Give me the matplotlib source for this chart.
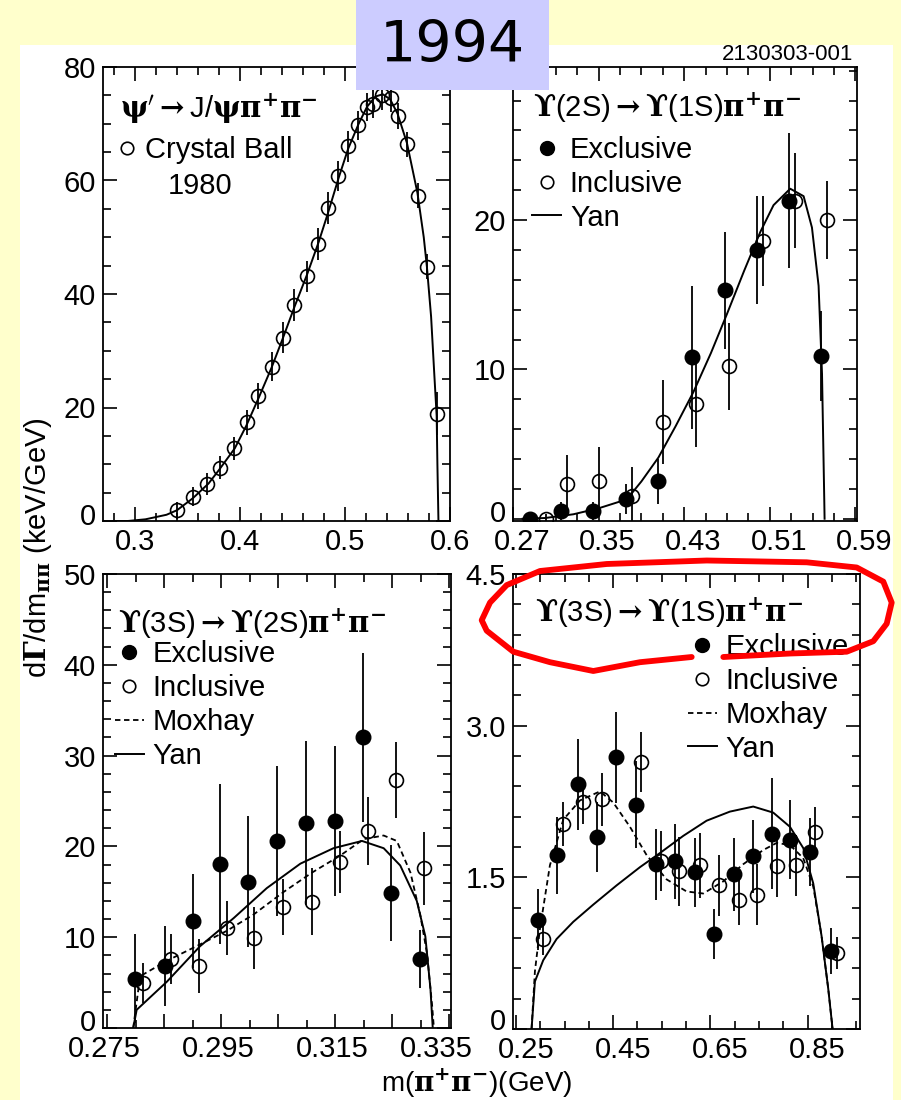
import matplotlib.pyplot as plt
from matplotlib.lines import Line2D
from matplotlib.patches import Rectangle
from matplotlib.ticker import MultipleLocator
from matplotlib.transforms import ScaledTranslation

plt.rcParams['font.family'] = ['Liberation Sans', 'DejaVu Sans']
plt.rcParams['mathtext.fontset'] = 'dejavuserif'

W, H = 901, 1100

# psi' -> J/psi pi+ pi-  (Crystal Ball 1980)
cb_m = [0.3397, 0.3549, 0.3688, 0.3809, 0.3945, 0.4064, 0.4174, 0.4302, 0.4412,
        0.4514, 0.4635, 0.4745, 0.4841, 0.4936, 0.5031, 0.5126, 0.5206, 0.5269,
        0.5349, 0.5435, 0.5502, 0.5593, 0.5692, 0.5778, 0.5873]
cb_rate = [1.9, 4.3, 6.5, 9.4, 12.8, 17.4, 22.1, 27.2, 32.3, 38.0, 43.1, 48.8, 55.1,
           60.8, 66.0, 69.7, 73.0, 73.5, 75.0, 74.6, 71.4, 66.4, 57.3, 44.8, 18.9]
cb_err = [1.5, 1.7, 2.0, 2.0, 2.0, 2.2, 2.3, 2.5, 2.7, 2.8, 2.8, 2.8, 2.8, 2.7, 2.7,
          2.6, 2.5, 2.5, 2.5, 2.5, 2.3, 2.2, 2.2, 2.2, 3.8]
cb_fit_m = [0.279, 0.293, 0.31, 0.33, 0.34, 0.355, 0.37, 0.38, 0.395, 0.406, 0.418,
            0.43, 0.441, 0.452, 0.464, 0.475, 0.484, 0.494, 0.503, 0.513, 0.521,
            0.529, 0.536, 0.543, 0.55, 0.559, 0.569, 0.575, 0.578, 0.582, 0.585,
            0.5873, 0.588, 0.589]
cb_fit_rate = [0, 0, 0.3, 1.1, 1.9, 4.0, 6.6, 9.0, 12.8, 16.8, 21.8, 27.0, 32.3, 37.8,
               43.5, 49.2, 54.4, 60.5, 65.6, 70.0, 73.0, 74.8, 75.2, 74.3, 71.8, 66.6,
               57.8, 50.0, 44.8, 36.0, 26.0, 18.5, 10.0, 0]

# Upsilon(2S) -> Upsilon(1S) pi+ pi-
u21_ex_m = [0.2859, 0.3146, 0.3451, 0.3754, 0.4059, 0.4377, 0.4683, 0.4980, 0.5282, 0.5578]
u21_ex = [0.0, 0.55, 0.55, 1.3, 2.5, 10.8, 15.3, 18.0, 21.3, 10.9]
u21_ex_err = [0.3, 0.6, 0.6, 1.0, 1.5, 4.8, 3.9, 3.6, 4.5, 3.0]
u21_in_m = [0.3009, 0.3202, 0.3507, 0.3810, 0.4106, 0.4412, 0.4723, 0.5036, 0.5331, 0.5635]
u21_in = [0.0, 2.3, 2.5, 1.55, 6.5, 7.7, 10.2, 18.6, 21.3, 20.0]
u21_in_err = [0.3, 2.0, 2.3, 1.9, 2.8, 2.9, 2.9, 3.0, 3.2, 2.6]
u21_yan_m = [0.279, 0.30, 0.3264, 0.35, 0.3764, 0.39, 0.4059, 0.422, 0.4387, 0.455,
             0.4699, 0.486, 0.5011, 0.5135, 0.5291, 0.5416, 0.5494, 0.5556, 0.5588,
             0.5609, 0.5612]
u21_yan = [0, 0.05, 0.3, 0.7, 1.3, 2.5, 4.1, 6.2, 8.5, 11.1, 13.7, 16.6, 19.2, 21.0,
           22.1, 21.6, 19.5, 15.6, 9.7, 1.3, 0]

# Upsilon(3S) -> Upsilon(2S) pi+ pi-
u32_ex_m = [0.2799, 0.2851, 0.2900, 0.2948, 0.2998, 0.3048, 0.3099, 0.3149, 0.3199, 0.3248, 0.3299]
u32_ex = [5.4, 6.8, 11.8, 18.1, 16.1, 20.6, 22.6, 22.8, 32.0, 14.9, 7.6]
u32_ex_err = [4.9, 4.4, 5.2, 8.8, 7.2, 8.3, 9.0, 8.3, 9.3, 5.3, 3.2]
u32_in_m = [0.2813, 0.2862, 0.2912, 0.2960, 0.3008, 0.3058, 0.3109, 0.3158, 0.3207, 0.3257, 0.3306]
u32_in = [5.0, 7.6, 6.8, 11.0, 9.9, 13.3, 13.9, 18.3, 21.7, 27.3, 17.6]
u32_in_err = [2.2, 2.7, 3.0, 3.0, 3.4, 3.1, 3.7, 3.4, 3.7, 4.2, 4.0]
u32_yan_m = [0.2796, 0.2802, 0.2855, 0.2913, 0.2972, 0.3030, 0.3089, 0.3147, 0.3197,
             0.3235, 0.3264, 0.3293, 0.3308, 0.3317, 0.3321]
u32_yan = [0, 2.0, 5.1, 9.0, 12.1, 15.4, 18.1, 19.8, 20.6, 19.8, 17.9, 14.0, 10.1, 4.3, 0]
u32_mox_m = [0.2796, 0.2808, 0.2855, 0.2913, 0.2960, 0.3007, 0.3060, 0.3109, 0.3159,
             0.3200, 0.3235, 0.3258, 0.3282, 0.3299, 0.3311, 0.3320, 0.3323]
u32_mox = [0, 5.7, 7.4, 9.2, 10.7, 12.5, 15.0, 17.1, 19.0, 20.8, 21.2, 20.6, 17.1,
           12.5, 8.2, 2.4, 0]

# Upsilon(3S) -> Upsilon(1S) pi+ pi-
u31_ex_m = [0.2959, 0.335, 0.3769, 0.4173, 0.4558, 0.4969, 0.5381, 0.5772, 0.6183,
            0.658, 0.6986, 0.7383, 0.7761, 0.8138, 0.855, 0.8975]
u31_ex = [1.08, 1.72, 2.42, 1.90, 2.69, 2.22, 1.63, 1.66, 1.55, 0.94, 1.53, 1.71,
          1.93, 1.87, 1.75, 0.77]
u31_ex_err = [0.3, 0.38, 0.45, 0.35, 0.45, 0.43, 0.35, 0.37, 0.34, 0.25, 0.36, 0.36,
              0.55, 0.39, 0.34, 0.23]
u31_in_m = [0.3062, 0.3473, 0.3885, 0.4263, 0.5065, 0.548, 0.586, 0.6286, 0.6683,
            0.7095, 0.7465, 0.7877, 0.8261, 0.8652, 0.9099]
u31_in = [0.89, 2.03, 2.25, 2.27, 2.64, 1.66, 1.56, 1.62, 1.42, 1.28, 1.33, 1.61,
          1.62, 1.95, 0.75]
u31_in_err = [0.16, 0.22, 0.22, 0.26, 0.30, 0.3, 0.34, 0.32, 0.3, 0.25, 0.3, 0.3,
              0.3, 0.25, 0.16]
u31_mox_m = [0.2822, 0.2891, 0.2994, 0.32, 0.3474, 0.3817, 0.4228, 0.4503, 0.4846,
             0.5189, 0.56, 0.6012, 0.6355, 0.6766, 0.7178, 0.7589, 0.7864, 0.8138,
             0.8412, 0.8618, 0.8789, 0.8926, 0.9016]
u31_mox = [0, 0.57, 0.99, 1.62, 2.07, 2.26, 2.35, 2.24, 2.0, 1.72, 1.48, 1.36, 1.34,
           1.46, 1.63, 1.77, 1.84, 1.82, 1.69, 1.41, 0.92, 0.4, 0]
u31_yan_m = [0.2822, 0.2891, 0.3062, 0.3337, 0.368, 0.4091, 0.4571, 0.5051, 0.5463,
             0.5943, 0.6423, 0.6903, 0.7383, 0.7795, 0.8138, 0.8412, 0.8618, 0.8789,
             0.8926, 0.9016]
u31_yan = [0, 0.47, 0.68, 0.89, 1.06, 1.23, 1.42, 1.60, 1.74, 1.91, 2.06, 2.15, 2.20,
           2.14, 2.0, 1.79, 1.44, 0.92, 0.4, 0]

# tick labels
tl_xticks = [0.3, 0.4, 0.5, 0.6]
tl_yticks = [0, 20, 40, 60, 80]
tr_xticks = [0.27, 0.35, 0.43, 0.51, 0.59]
tr_yticks = [0, 10, 20]
bl_xticks = [0.275, 0.285, 0.295, 0.305, 0.315, 0.325, 0.335]
bl_xticklabels = ['0.275', '', '0.295', '', '0.315', '', '0.335']
bl_yticks = [0, 10, 20, 30, 40, 50]
br_xticks = [0.25, 0.45, 0.65, 0.85]
br_yticks = [0, 1.5, 3.0, 4.5]
br_yticklabels = ['0', '1.5', '3.0', '4.5']

U = r'$\mathbf{ϒ}$'
ARROW = r'$\mathbf{\rightarrow}$'
PIPI = r'$\mathbf{\pi^{+}\pi^{-}}$'

# red hand-drawn loop (figure pixels)
loop_x = [691.7, 640, 593.3, 550, 513.3, 486.7, 481.7, 490, 506.7, 540, 606.7, 706.7,
          806.7, 856.7, 883.3, 891.7, 886.7, 873.3, 846.7, 790, 723.3]
loop_y = [657, 662.2, 671, 662.2, 651.7, 630.7, 620.2, 602.6, 585.1, 571, 564, 560.5,
          562.3, 567.5, 581.6, 602.6, 623.7, 641.2, 651.7, 653.5, 657]


def rect(l, r, t, b):
    return [l / W, 1 - b / H, (r - l) / W, (b - t) / H]


def style(ax, xlim, ylim, xminor, yminor, xoff=0.0):
    ax.set_xlim(xlim)
    ax.set_ylim(ylim)
    ax.xaxis.set_minor_locator(MultipleLocator(xminor, offset=xoff))
    ax.yaxis.set_minor_locator(MultipleLocator(yminor))
    ax.tick_params(which='both', direction='in', top=True, right=True,
                   labelsize=21, width=1.2, pad=5, colors='black')
    ax.tick_params(which='major', length=10)
    ax.tick_params(which='minor', length=5.5)
    for s in ax.spines.values():
        s.set_linewidth(1.3)


def nudge(labels, dx, dy=0):
    # shift tick labels by pixels, as in the scanned original
    for lab in labels:
        lab.set_transform(lab.get_transform() + ScaledTranslation(dx / 100, -dy / 100, fig.dpi_scale_trans))


def legend(ax, handles, labels, anchor, hl=1.0):
    ax.legend(handles, labels, loc='upper left', bbox_to_anchor=anchor,
              frameon=False, fontsize=21, handlelength=hl, handletextpad=0.3,
              labelspacing=0.2, borderpad=0, borderaxespad=0)


ekw = dict(ls='none', ecolor='black', elinewidth=1.3, capsize=0)
fill = dict(fmt='o', ms=10.5, color='black', **ekw)
hollow = dict(fmt='o', ms=10, mfc='none', mec='black', mew=1.2, **ekw)
yan_kw = dict(color='black', lw=1.4)
mox_kw = dict(color='black', lw=1.3, ls=(0, (3, 2)))

h_ex = Line2D([], [], marker='o', ls='none', color='black', ms=10)
h_in = Line2D([], [], marker='o', ls='none', mfc='none', mec='black', mew=1.2, ms=9)
h_mox = Line2D([], [], **mox_kw)
h_yan = Line2D([], [], **yan_kw)

fig = plt.figure(figsize=(W / 100, H / 100), dpi=100, facecolor='#ffffcc')
fig.add_artist(Rectangle((20 / W, 0), 873 / W, 1 - 45 / H, transform=fig.transFigure,
                         facecolor='white', edgecolor='none', zorder=-5))

# top left
ax = fig.add_axes(rect(103, 450, 67, 521))
ax.plot(cb_fit_m, cb_fit_rate, **yan_kw)
ax.errorbar(cb_m, cb_rate, yerr=cb_err, **hollow)
ax.set_xticks(tl_xticks, [str(t) for t in tl_xticks])
ax.set_yticks(tl_yticks, [str(t) for t in tl_yticks])
style(ax, (0.2695, 0.6), (0, 80), 0.02, 5)
nudge(ax.get_yticklabels()[:1], 0, -7)
ax.text(0.049, 0.9075, r"$\mathbf{\psi}'$" + ARROW + r"J/$\mathbf{\psi\pi^{+}\pi^{-}}$",
        transform=ax.transAxes, fontsize=21, va='center')
legend(ax, [h_in], ['Crystal Ball'], (0.045, 0.848), hl=0.6)
ax.text(0.187, 0.738, '1980', transform=ax.transAxes, fontsize=21, va='center')

# top right
ax = fig.add_axes(rect(513, 857, 67, 521))
ax.plot(u21_yan_m, u21_yan, **yan_kw)
ax.errorbar(u21_in_m, u21_in, yerr=u21_in_err, **hollow)
ax.errorbar(u21_ex_m, u21_ex, yerr=u21_ex_err, **fill)
ax.set_xticks(tr_xticks, [str(t) for t in tr_xticks])
ax.set_yticks(tr_yticks, [str(t) for t in tr_yticks])
style(ax, (0.27, 0.5915), (-0.15, 30.25), 0.02, 2, xoff=0.01)
nudge(ax.get_xticklabels(), 9)
nudge(ax.get_yticklabels()[:1], 0, -8)
ax.text(0.058, 0.91, U + '(2S)' + ARROW + U + '(1S)' + PIPI, transform=ax.transAxes,
        fontsize=21, va='center')
legend(ax, [h_ex, h_in, h_yan], ['Exclusive', 'Inclusive', 'Yan'], (0.055, 0.848))

# bottom left
ax = fig.add_axes(rect(103, 451, 574, 1028))
ax.plot(u32_mox_m, u32_mox, **mox_kw)
ax.plot(u32_yan_m, u32_yan, **yan_kw)
ax.errorbar(u32_in_m, u32_in, yerr=u32_in_err, **hollow)
ax.errorbar(u32_ex_m, u32_ex, yerr=u32_ex_err, **fill)
ax.set_xticks(bl_xticks, bl_xticklabels)
ax.set_yticks(bl_yticks, [str(t) for t in bl_yticks])
style(ax, (0.2743, 0.3353), (0, 50), 0.005, 2)
nudge(ax.get_xticklabels()[:-1], -3)
nudge(ax.get_xticklabels()[-1:], -13)
nudge(ax.get_yticklabels()[:1], 0, -8)
ax.text(0.043, 0.8905, U + '(3S)' + ARROW + U + '(2S)' + PIPI, transform=ax.transAxes,
        fontsize=21, va='center')
legend(ax, [h_ex, h_in, h_mox, h_yan], ['Exclusive', 'Inclusive', 'Moxhay', 'Yan'],
       (0.034, 0.854))

# bottom right
ax = fig.add_axes(rect(513, 860, 574, 1029))
ax.plot(u31_mox_m, u31_mox, **mox_kw)
ax.plot(u31_yan_m, u31_yan, **yan_kw)
ax.errorbar(u31_in_m, u31_in, yerr=u31_in_err, **hollow)
ax.errorbar(u31_ex_m, u31_ex, yerr=u31_ex_err, **fill)
ax.set_xticks(br_xticks, [str(t) for t in br_xticks])
ax.set_yticks(br_yticks, br_yticklabels)
style(ax, (0.244, 0.958), (0, 4.5), 0.05, 0.3)
nudge(ax.get_xticklabels(), 10)
nudge(ax.get_yticklabels()[:1], 0, -10)
ax.text(0.063, 0.914, U + '(3S)' + ARROW + U + '(1S)' + PIPI, transform=ax.transAxes,
        fontsize=21, va='center')
legend(ax, [h_ex, h_in, h_mox, h_yan], ['Exclusive', 'Inclusive', 'Moxhay', 'Yan'],
       (0.504, 0.870))

# figure texts
fig.text(38 / W, 1 - 548 / H, r'd$\mathbf{\Gamma}$/dm$_{\mathbf{\pi\pi}}$ (keV/GeV)',
         rotation=90, ha='center', va='center', fontsize=21)
fig.text(477 / W, 1 - 1083 / H, r'm(' + PIPI + ')(GeV)', ha='center', va='center',
         fontsize=20)
fig.text(853 / W, 1 - 54 / H, '2130303-001', ha='right', va='center', fontsize=16)

# 1994 label box
fig.add_artist(Rectangle((356 / W, 1 - 90 / H), 193 / W, 90 / H, transform=fig.transFigure,
                         facecolor='#ccccff', edgecolor='none', zorder=5))
fig.text(452 / W, 1 - 46 / H, '1994', ha='center', va='center', fontsize=41,
         family='DejaVu Sans', zorder=6)

fig.add_artist(Line2D([x / W for x in loop_x], [1 - y / H for y in loop_y],
                      transform=fig.transFigure, color='#ff0000', lw=4.2,
                      solid_joinstyle='round', solid_capstyle='round', zorder=10))

fig.savefig('out.png', dpi=100, facecolor=fig.get_facecolor())
